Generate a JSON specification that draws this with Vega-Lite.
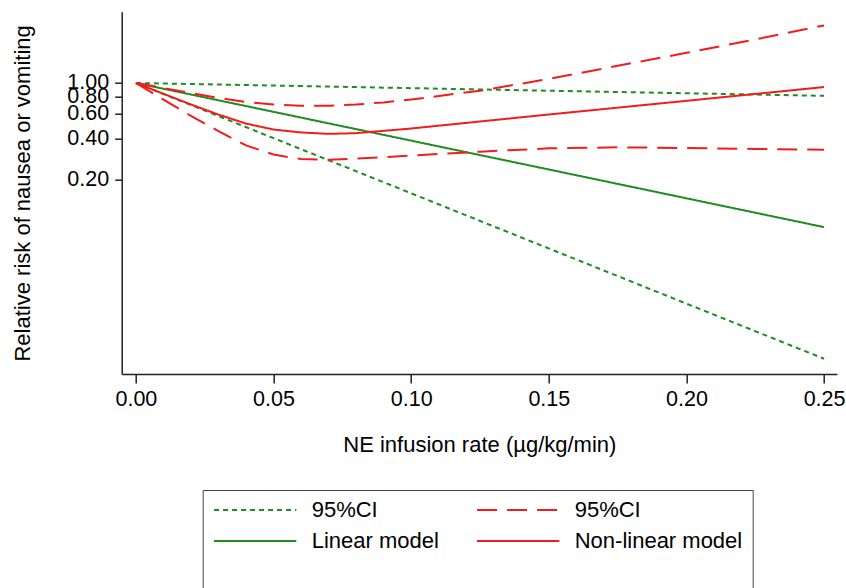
{
  "$schema": "https://vega.github.io/schema/vega-lite/v6.json",
  "autosize": "none",
  "width": 715.3,
  "height": 362.3,
  "padding": {"left": 121.7, "top": 11.7, "right": 9, "bottom": 214},
  "background": "white",
  "config": {
    "view": {"stroke": null},
    "font": "Liberation Sans",
    "axis": {
      "grid": false,
      "domainColor": "#222",
      "domainWidth": 1.5,
      "tickColor": "#222",
      "tickWidth": 1.5,
      "labelColor": "black",
      "titleColor": "black",
      "labelFont": "Liberation Sans",
      "titleFont": "Liberation Sans",
      "labelFontSize": 21.5,
      "titleFontSize": 22,
      "titleFontWeight": "normal",
      "labelOverlap": false,
      "labelFlush": false
    },
    "legend": {
      "orient": "none",
      "direction": "horizontal",
      "legendX": 81,
      "legendY": 478.3,
      "columns": 2,
      "columnPadding": 36,
      "rowPadding": 9,
      "clipHeight": 20,
      "padding": 10,
      "strokeColor": "#444",
      "fillColor": "white",
      "symbolType": "stroke",
      "symbolSize": 6773,
      "symbolStrokeWidth": 2,
      "labelOffset": 14,
      "labelFont": "Liberation Sans",
      "labelFontSize": 22,
      "labelColor": "black",
      "labelLimit": 300,
      "titleFontSize": 22,
      "titleOrient": "bottom",
      "titlePadding": 20
    }
  },
  "data": {
    "values": [
      {"x": 0, "rr": 1, "series": "95%CI (linear)", "part": "upper"},
      {"x": 0.25, "rr": 0.808, "series": "95%CI (linear)", "part": "upper"},
      {"x": 0, "rr": 1, "series": "95%CI (linear)", "part": "lower"},
      {"x": 0.25, "rr": 0.0103, "series": "95%CI (linear)", "part": "lower"},
      {"x": 0, "rr": 1, "series": "Linear model", "part": "fit"},
      {"x": 0.25, "rr": 0.0915, "series": "Linear model", "part": "fit"},

      {"x": 0, "rr": 1, "series": "95%CI (non-linear)", "part": "upper"},
      {"x": 0.01, "rr": 0.92, "series": "95%CI (non-linear)", "part": "upper"},
      {"x": 0.02, "rr": 0.845, "series": "95%CI (non-linear)", "part": "upper"},
      {"x": 0.03, "rr": 0.78, "series": "95%CI (non-linear)", "part": "upper"},
      {"x": 0.04, "rr": 0.73, "series": "95%CI (non-linear)", "part": "upper"},
      {"x": 0.05, "rr": 0.70, "series": "95%CI (non-linear)", "part": "upper"},
      {"x": 0.06, "rr": 0.685, "series": "95%CI (non-linear)", "part": "upper"},
      {"x": 0.07, "rr": 0.685, "series": "95%CI (non-linear)", "part": "upper"},
      {"x": 0.08, "rr": 0.70, "series": "95%CI (non-linear)", "part": "upper"},
      {"x": 0.09, "rr": 0.725, "series": "95%CI (non-linear)", "part": "upper"},
      {"x": 0.10, "rr": 0.76, "series": "95%CI (non-linear)", "part": "upper"},
      {"x": 0.125, "rr": 0.88, "series": "95%CI (non-linear)", "part": "upper"},
      {"x": 0.15, "rr": 1.07, "series": "95%CI (non-linear)", "part": "upper"},
      {"x": 0.175, "rr": 1.33, "series": "95%CI (non-linear)", "part": "upper"},
      {"x": 0.20, "rr": 1.65, "series": "95%CI (non-linear)", "part": "upper"},
      {"x": 0.225, "rr": 2.06, "series": "95%CI (non-linear)", "part": "upper"},
      {"x": 0.25, "rr": 2.6, "series": "95%CI (non-linear)", "part": "upper"},

      {"x": 0, "rr": 1, "series": "95%CI (non-linear)", "part": "lower"},
      {"x": 0.01, "rr": 0.76, "series": "95%CI (non-linear)", "part": "lower"},
      {"x": 0.02, "rr": 0.58, "series": "95%CI (non-linear)", "part": "lower"},
      {"x": 0.03, "rr": 0.45, "series": "95%CI (non-linear)", "part": "lower"},
      {"x": 0.04, "rr": 0.355, "series": "95%CI (non-linear)", "part": "lower"},
      {"x": 0.05, "rr": 0.305, "series": "95%CI (non-linear)", "part": "lower"},
      {"x": 0.06, "rr": 0.283, "series": "95%CI (non-linear)", "part": "lower"},
      {"x": 0.07, "rr": 0.28, "series": "95%CI (non-linear)", "part": "lower"},
      {"x": 0.08, "rr": 0.285, "series": "95%CI (non-linear)", "part": "lower"},
      {"x": 0.10, "rr": 0.30, "series": "95%CI (non-linear)", "part": "lower"},
      {"x": 0.125, "rr": 0.32, "series": "95%CI (non-linear)", "part": "lower"},
      {"x": 0.15, "rr": 0.338, "series": "95%CI (non-linear)", "part": "lower"},
      {"x": 0.175, "rr": 0.344, "series": "95%CI (non-linear)", "part": "lower"},
      {"x": 0.20, "rr": 0.34, "series": "95%CI (non-linear)", "part": "lower"},
      {"x": 0.225, "rr": 0.335, "series": "95%CI (non-linear)", "part": "lower"},
      {"x": 0.25, "rr": 0.33, "series": "95%CI (non-linear)", "part": "lower"},

      {"x": 0, "rr": 1, "series": "Non-linear model", "part": "fit"},
      {"x": 0.01, "rr": 0.836, "series": "Non-linear model", "part": "fit"},
      {"x": 0.02, "rr": 0.70, "series": "Non-linear model", "part": "fit"},
      {"x": 0.03, "rr": 0.592, "series": "Non-linear model", "part": "fit"},
      {"x": 0.04, "rr": 0.51, "series": "Non-linear model", "part": "fit"},
      {"x": 0.05, "rr": 0.462, "series": "Non-linear model", "part": "fit"},
      {"x": 0.06, "rr": 0.44, "series": "Non-linear model", "part": "fit"},
      {"x": 0.07, "rr": 0.43, "series": "Non-linear model", "part": "fit"},
      {"x": 0.08, "rr": 0.435, "series": "Non-linear model", "part": "fit"},
      {"x": 0.10, "rr": 0.47, "series": "Non-linear model", "part": "fit"},
      {"x": 0.125, "rr": 0.528, "series": "Non-linear model", "part": "fit"},
      {"x": 0.15, "rr": 0.593, "series": "Non-linear model", "part": "fit"},
      {"x": 0.175, "rr": 0.664, "series": "Non-linear model", "part": "fit"},
      {"x": 0.20, "rr": 0.744, "series": "Non-linear model", "part": "fit"},
      {"x": 0.225, "rr": 0.834, "series": "Non-linear model", "part": "fit"},
      {"x": 0.25, "rr": 0.935, "series": "Non-linear model", "part": "fit"}
    ]
  },
  "mark": {"type": "line", "strokeWidth": 2, "clip": true},
  "encoding": {
    "x": {
      "field": "x",
      "type": "quantitative",
      "scale": {"domain": [-0.00516, 0.2547], "nice": false, "zero": false},
      "axis": {
        "values": [0, 0.05, 0.1, 0.15, 0.2, 0.25],
        "format": ".2f",
        "tickSize": 9,
        "labelPadding": 5,
        "title": "NE infusion rate (µg/kg/min)",
        "titleX": 357.6,
        "titleY": 77,
        "titleAlign": "center",
        "titleBaseline": "alphabetic"
      }
    },
    "y": {
      "field": "rr",
      "type": "quantitative",
      "scale": {"type": "log", "domain": [0.008, 3.264], "nice": false},
      "axis": {
        "values": [0.2, 0.4, 0.6, 0.8, 1.0],
        "format": ".2f",
        "tickSize": 7,
        "labelPadding": 6,
        "title": "Relative risk of nausea or vomiting",
        "titleAngle": -90,
        "titleX": -92.5,
        "titleY": 181.2,
        "titleAlign": "center",
        "titleBaseline": "alphabetic"
      }
    },
    "detail": {"field": "part"},
    "order": {"field": "x", "type": "quantitative"},
    "color": {
      "field": "series",
      "type": "nominal",
      "scale": {
        "domain": ["95%CI (linear)", "95%CI (non-linear)", "Linear model", "Non-linear model"],
        "range": ["#1e8c1e", "#f21c1c", "#1e8c1e", "#f21c1c"]
      },
      "legend": {
        "labelExpr": "indexof(datum.label, '95%CI') == 0 ? '95%CI' : datum.label",
        "title": " "
      }
    },
    "strokeDash": {
      "field": "series",
      "type": "nominal",
      "scale": {
        "domain": ["95%CI (linear)", "95%CI (non-linear)", "Linear model", "Non-linear model"],
        "range": [[5, 4], [20, 10], [1, 0], [1, 0]]
      },
      "legend": {
        "labelExpr": "indexof(datum.label, '95%CI') == 0 ? '95%CI' : datum.label",
        "title": " "
      }
    }
  }
}
